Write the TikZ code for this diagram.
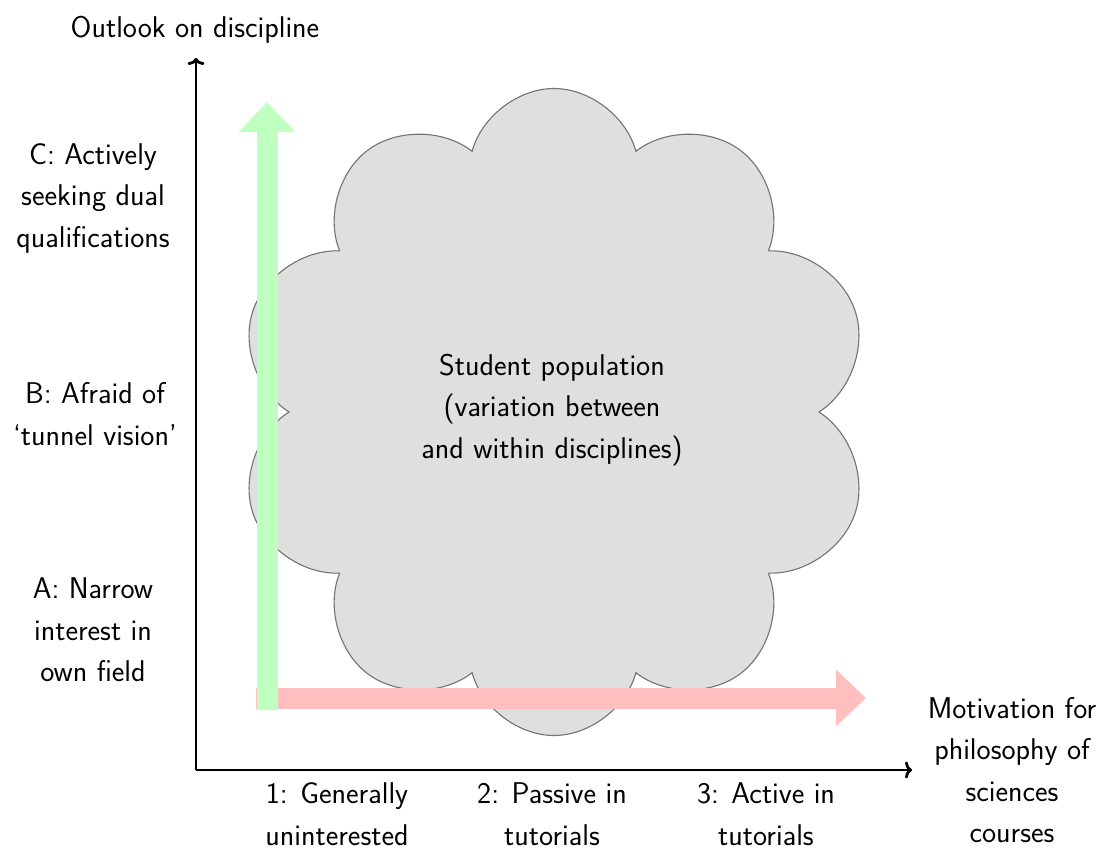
\documentclass[tikz,border=0pt]{standalone}
\usepackage{fontspec}
\usetikzlibrary{shapes.symbols,arrows.meta}
\tikzset{
  lbl/.style={align=center,inner sep=0pt,font=\sffamily\fontsize{30}{41.5}\selectfont},
  axis/.style={line width=2.8,-{To[length=7,width=17]}},
  fatarrow/.style={line width=21,-{Triangle[length=30,width=55]}},
  crowd/.style={cloud,cloud puffs=10,cloud ignores aspect,draw=gray!90!black,line width=1.1,fill=gray!25,inner sep=0pt,minimum width=634,minimum height=647}
}
\begin{document}
\begin{tikzpicture}[x=1pt,y=-1pt]
\useasboundingbox (0,0) rectangle (1105,851);
% cloud
\node[crowd] (pop) at (554,412) {};
\node[lbl] (poptext) at (552,410) {Student population\\(variation between\\and within disciplines)};
% axes
\coordinate (o) at (196,770);
\coordinate (ytip) at (196,58);
\coordinate (xtip) at (912,770);
\draw[axis] (o) -- (ytip);
\draw[axis] (o) -- (xtip);
% fat arrows
\coordinate (rs) at (256,698);
\coordinate (re) at (866,698);
\coordinate (gs) at (267,710);
\coordinate (ge) at (267,102);
\draw[fatarrow,red!25] (rs) -- (re);
\draw[fatarrow,green!25] (gs) -- (ge);
% labels
\node[lbl] (ylab) at (195,30) {Outlook on discipline};
\node[lbl] (c) at (93,198) {C: Actively\\seeking dual\\qualifications};
\node[lbl] (b) at (95,414) {B: Afraid of\\`tunnel vision'};
\node[lbl] (a) at (93,630) {A: Narrow\\interest in\\own field};
\node[lbl] (l1) at (337,814) {1: Generally\\uninterested};
\node[lbl] (l2) at (552,814) {2: Passive in\\tutorials};
\node[lbl] (l3) at (766,814) {3: Active in\\tutorials};
\node[lbl] (xlab) at (1012,770) {Motivation for\\philosophy of\\sciences\\courses};
\end{tikzpicture}
\end{document}
